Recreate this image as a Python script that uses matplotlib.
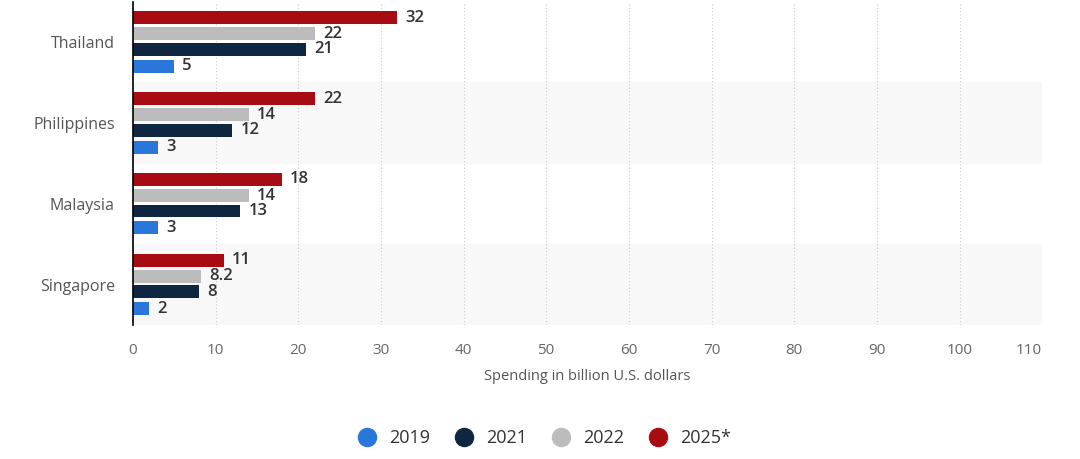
import matplotlib.pyplot as plt
import numpy as np
from matplotlib.lines import Line2D

plt.rcParams['font.family'] = ['Open Sans', 'DejaVu Sans']

countries = ['Thailand', 'Philippines', 'Malaysia', 'Singapore']
years = ['2019', '2021', '2022', '2025*']
values_2019 = [5, 3, 3, 2]
values_2021 = [21, 12, 13, 8]
values_2022 = [22, 14, 14, 8.2]
values_2025 = [32, 22, 18, 11]
labels_2022 = ['22', '14', '14', '8.2']
colors = ['#2a77dc', '#0e2640', '#bcbcbc', '#a70c12']

fig = plt.figure(figsize=(10.8, 4.59), dpi=100)
ax = fig.add_axes([0.123, 0.292, 0.842, 0.7045])

y = np.arange(len(countries))
series = [values_2019, values_2021, values_2022, values_2025]
offsets = [0.30, 0.09, -0.10, -0.30]
h = 0.16

# alternating background bands
for i in range(len(countries)):
    if i % 2 == 1:
        ax.axhspan(i - 0.5, i + 0.5, color='#f8f8f8', zorder=0)

for s, (vals, off, col) in enumerate(zip(series, offsets, colors)):
    bars = ax.barh(y + off, vals, height=h, color=col, zorder=3, label=years[s])
    for j, bar in enumerate(bars):
        txt = labels_2022[j] if s == 2 else str(int(vals[j]))
        ax.text(bar.get_width() + 1.0, bar.get_y() + bar.get_height() / 2, txt,
                va='center', ha='left', fontsize=12, fontweight='semibold',
                color='#333333', zorder=4)

ax.set_xlim(0, 110)
ax.set_ylim(3.5, -0.5)
ax.set_xticks(range(0, 111, 10))
ax.set_yticks(y)
ax.set_yticklabels(countries)
ax.tick_params(axis='y', length=0, pad=13, labelsize=11.5, labelcolor='#555555')
ax.tick_params(axis='x', length=0, pad=13, labelsize=11, labelcolor='#666666')
ax.get_xticklabels()[-1].set_horizontalalignment('right')
ax.grid(axis='x', linestyle=(0, (1, 2)), color='#cccccc', linewidth=0.8, zorder=1)
for sp in ['top', 'right', 'bottom']:
    ax.spines[sp].set_visible(False)
ax.spines['left'].set_color('#000000')
ax.spines['left'].set_linewidth(1.2)
ax.spines['left'].set_zorder(5)
ax.set_xlabel('Spending in billion U.S. dollars', fontsize=10.5, color='#555555', labelpad=8)

handles = [Line2D([], [], marker='o', linestyle='', markersize=13, color=c) for c in colors]
fig.legend(handles, years, loc='center', bbox_to_anchor=(0.5, 0.045), ncol=4, frameon=False,
           fontsize=13, handletextpad=0.2, columnspacing=0.9, labelcolor='#333333')

plt.savefig('out.png', dpi=100)
